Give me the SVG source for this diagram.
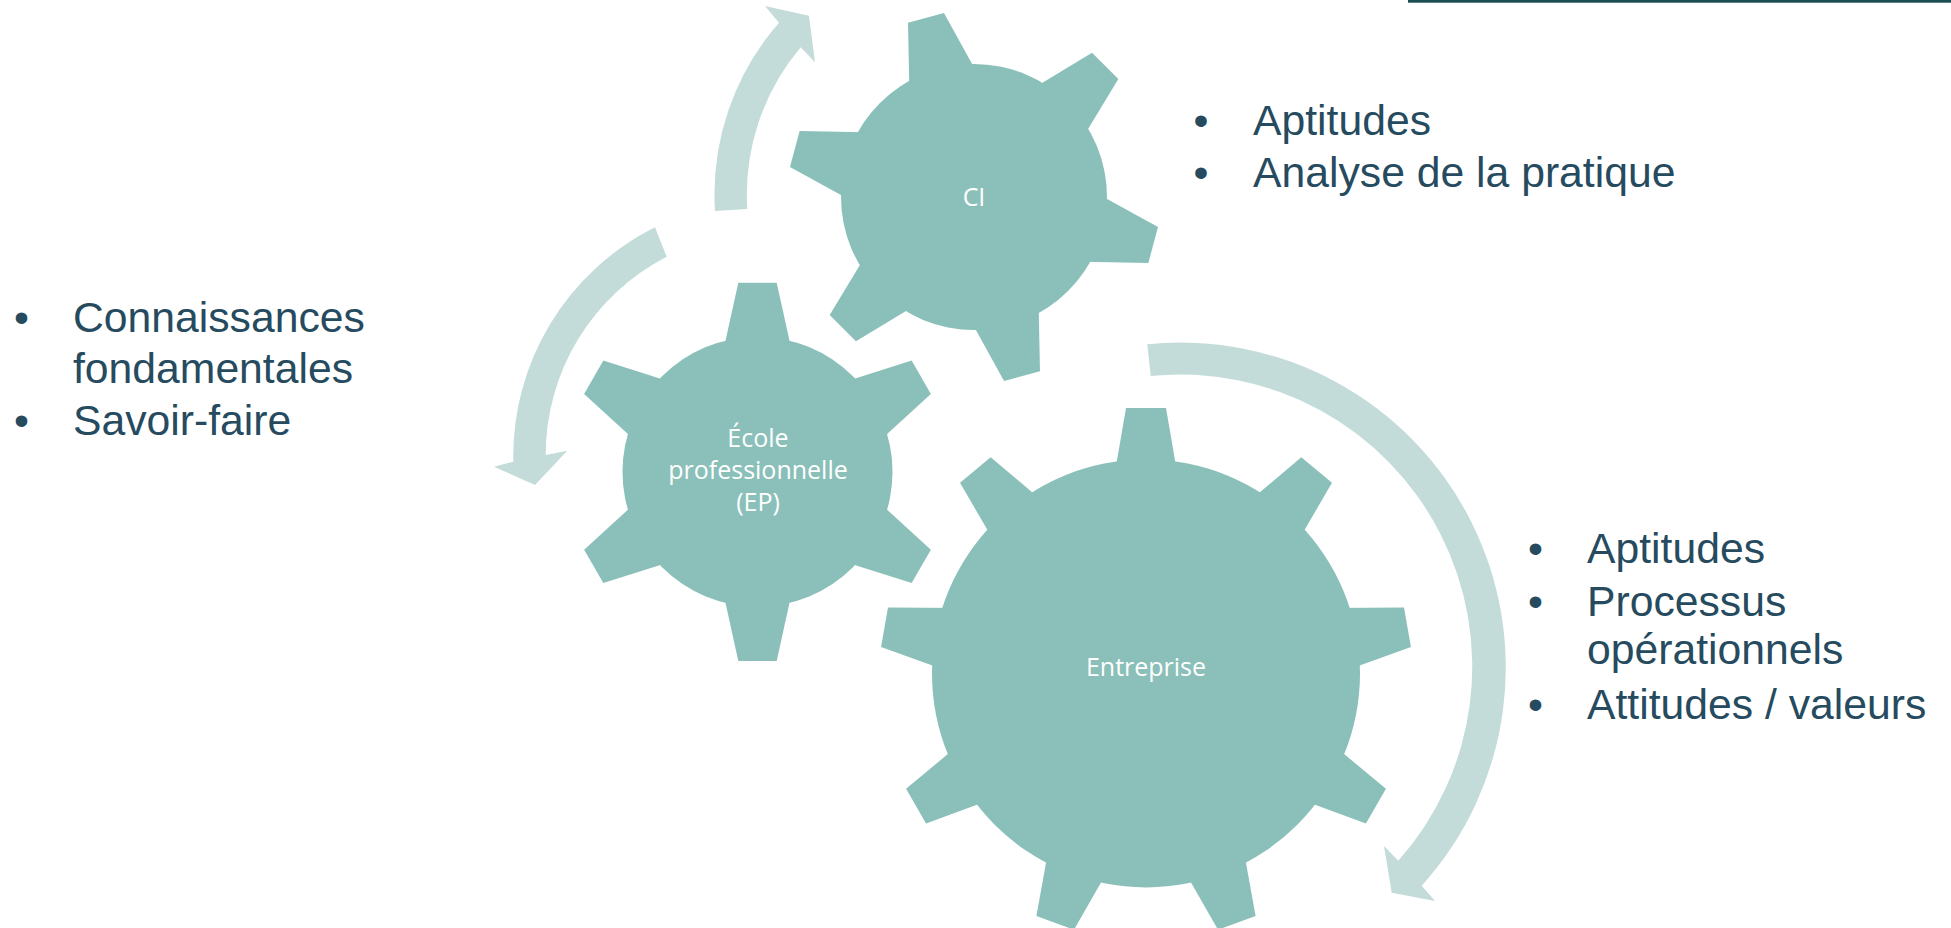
<svg xmlns="http://www.w3.org/2000/svg" xmlns:xlink="http://www.w3.org/1999/xlink" width="1951" height="928" viewBox="0 0 1951 928">
  <style>
    .gear { fill: #8AC0B9; }
    .arrow { fill: #C3DCD9; }
    .glabel { font-family: "Open Sans", "Noto Sans", sans-serif; font-size: 25px; fill: #FFFFFF; text-anchor: middle; }
    .list { font-family: "Liberation Sans", Arial, sans-serif; fill: #264B5F; font-size: 42.7px; }
  </style>
  <defs>
    <polygon id="tooth-ci" points="110,-37.2 185.5,-18.6 185.5,18.6 110,37.2"/>
    <polygon id="tooth-ep" points="112,-36.2 189.1,-19.2 189.1,19.2 112,36.2"/>
    <polygon id="tooth-ent" points="190,-33 265.5,-20 265.5,20 190,33"/>
  </defs>
  <rect x="1408" y="0" width="543" height="2.7" fill="#1B4D52"/>

  <g id="connectors">
    <path id="arrow-ci" class="arrow" d="M715,211 A261,261 0 0 1 779,22.7 L765,6 L809,15.7 L815,62.3 L800.7,47.3 A228,228 0 0 0 747.3,209 Z"/>
    <path id="arrow-ep" class="arrow" d="M655,227.3 A256,256 0 0 0 513.3,461.7 L494,466.7 L535,485 L567.3,450.7 L545.7,455 A223,223 0 0 1 666.7,256.7 Z"/>
    <path id="arrow-entreprise" class="arrow" d="M1147.3,344.3 A325,325 0 0 1 1421.7,885.7 L1435,901 L1391.7,892.7 L1384,846 L1398.3,860.7 A292,292 0 0 0 1150.7,376 Z"/>
  </g>

  <g id="gear-ci">
    <g class="gear" transform="translate(974,197)">
      <circle cx="0" cy="0" r="133"/>
      <use xlink:href="#tooth-ci" transform="rotate(-105)"/>
      <use xlink:href="#tooth-ci" transform="rotate(-45)"/>
      <use xlink:href="#tooth-ci" transform="rotate(15)"/>
      <use xlink:href="#tooth-ci" transform="rotate(75)"/>
      <use xlink:href="#tooth-ci" transform="rotate(135)"/>
      <use xlink:href="#tooth-ci" transform="rotate(195)"/>
    </g>
    <text class="glabel" x="974" y="206">CI</text>
  </g>

  <g id="gear-ep">
    <g class="gear" transform="translate(757.5,471.8)">
      <circle cx="0" cy="0" r="135"/>
      <use xlink:href="#tooth-ep" transform="rotate(-90)"/>
      <use xlink:href="#tooth-ep" transform="rotate(-30)"/>
      <use xlink:href="#tooth-ep" transform="rotate(30)"/>
      <use xlink:href="#tooth-ep" transform="rotate(90)"/>
      <use xlink:href="#tooth-ep" transform="rotate(150)"/>
      <use xlink:href="#tooth-ep" transform="rotate(210)"/>
    </g>
    <text class="glabel" x="758" y="447">École</text>
    <text class="glabel" x="758" y="479">professionnelle</text>
    <text class="glabel" x="758" y="511">(EP)</text>
  </g>

  <g id="gear-entreprise">
    <g class="gear" transform="translate(1146,673.4)">
      <circle cx="0" cy="0" r="214"/>
      <use xlink:href="#tooth-ent" transform="rotate(-90)"/>
      <use xlink:href="#tooth-ent" transform="rotate(-50)"/>
      <use xlink:href="#tooth-ent" transform="rotate(-10)"/>
      <use xlink:href="#tooth-ent" transform="rotate(30)"/>
      <use xlink:href="#tooth-ent" transform="rotate(70)"/>
      <use xlink:href="#tooth-ent" transform="rotate(110)"/>
      <use xlink:href="#tooth-ent" transform="rotate(150)"/>
      <use xlink:href="#tooth-ent" transform="rotate(190)"/>
      <use xlink:href="#tooth-ent" transform="rotate(230)"/>
    </g>
    <text class="glabel" x="1146" y="676">Entreprise</text>
  </g>

  <g id="list-ep" class="list">
    <text x="14" y="332">•</text>
    <text x="73" y="332">Connaissances</text>
    <text x="73" y="383">fondamentales</text>
    <text x="14" y="435">•</text>
    <text x="73" y="435">Savoir-faire</text>
  </g>

  <g id="list-ci" class="list">
    <text x="1193.5" y="134.5">•</text>
    <text x="1253" y="134.5">Aptitudes</text>
    <text x="1193.5" y="187">•</text>
    <text x="1253" y="187">Analyse de la pratique</text>
  </g>

  <g id="list-entreprise" class="list">
    <text x="1528" y="563">•</text>
    <text x="1528" y="616">•</text>
    <text x="1587" y="563">Aptitudes</text>
    <text x="1587" y="616">Processus</text>
    <text x="1587" y="664">opérationnels</text>
    <text x="1528" y="719">•</text>
    <text x="1587" y="719">Attitudes / valeurs</text>
  </g>
</svg>
